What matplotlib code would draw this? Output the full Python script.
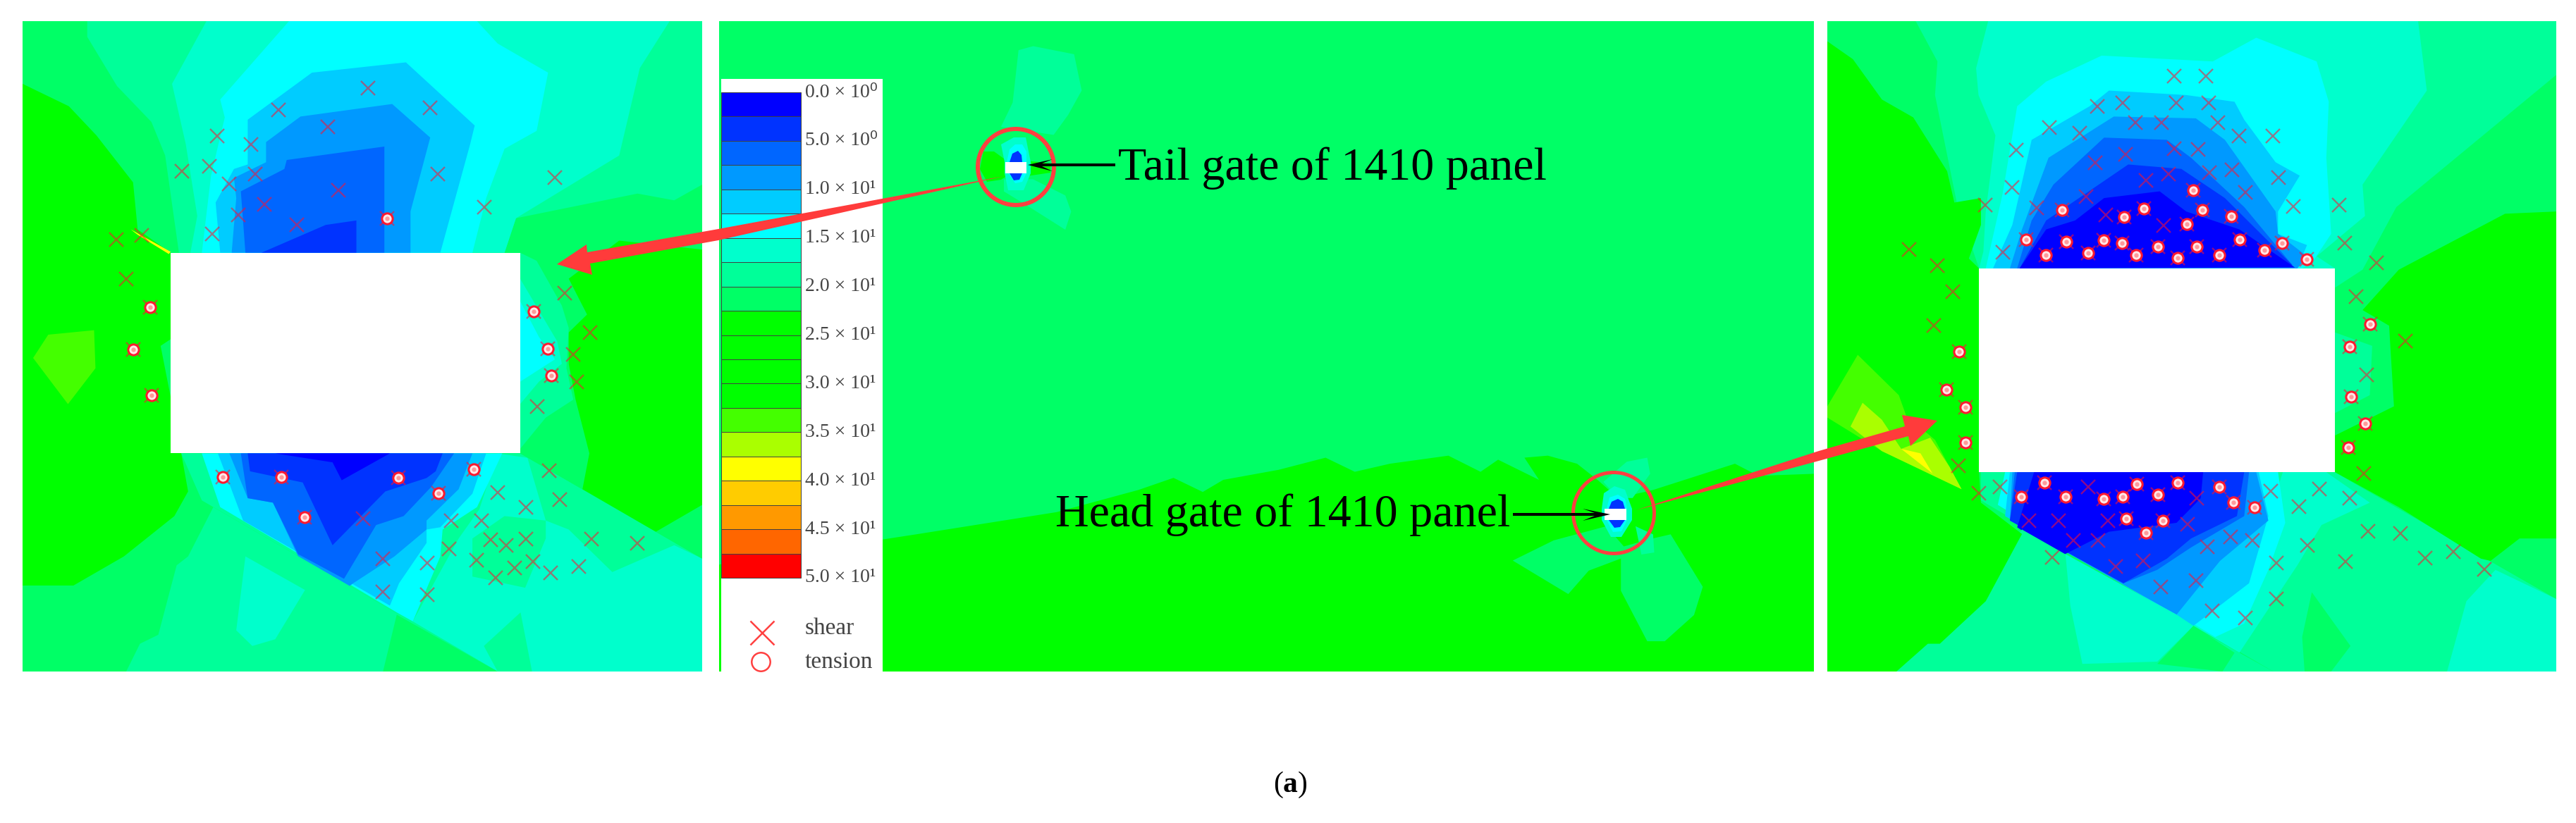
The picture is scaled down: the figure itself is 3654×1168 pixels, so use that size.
import matplotlib
matplotlib.use('Agg')
import matplotlib.pyplot as plt
from matplotlib.patches import Ellipse

plt.rcParams['font.family'] = ['Liberation Serif', 'DejaVu Sans']
plt.rcParams['mathtext.fontset'] = 'custom'
plt.rcParams['mathtext.rm'] = 'Liberation Serif'
plt.rcParams['mathtext.bf'] = 'Liberation Serif:bold'

W, H = 3655, 1168

# contour colours, low to high
C0, C1, C2, C3, C4, C5 = '#0000ff', '#0033ff', '#0066ff', '#0099ff', '#00ccff', '#00ffff'
C6, C7, C8, C9 = '#00ffcc', '#00ff99', '#00ff66', '#00ff00'
C10, C11, C12 = '#44ff00', '#aaff00', '#ffff00'
bar_colors = [C0, C1, C2, C3, C4, C5, C6, C7, C8, C9, C9, C9, C9, C10, C11, C12,
              '#ffcc00', '#ff9900', '#ff6600', '#ff0000']
bar_labels = ['0.0', '5.0', '1.0', '1.5', '2.0', '2.5', '3.0', '3.5', '4.0', '4.5', '5.0']
bar_powers = ['⁰', '⁰', '¹', '¹', '¹', '¹', '¹', '¹', '¹', '¹', '¹']

# left panel, picture units
L_XLIM, L_YLIM = (49, 1531), (1497, 45)
L_RECT = [(372, 562), (1134, 562), (1134, 1010), (372, 1010)]
l_up_c7 = [(190, 45), (1531, 45), (1531, 410), (1470, 445), (1390, 430), (1125, 485), (1100, 562), (390, 562), (360, 345), (330, 270), (255, 190), (190, 80)]
l_up_c6 = [(450, 45), (1460, 45), (1395, 150), (1350, 345), (1125, 485), (1100, 562), (415, 562), (430, 480), (405, 320), (375, 185)]
l_up_c5 = [(630, 45), (1040, 45), (1085, 95), (1195, 160), (1170, 290), (1100, 330), (1060, 440), (1030, 562), (440, 562), (460, 390), (490, 260), (480, 220)]
l_up_c4 = [(680, 160), (885, 137), (1035, 278), (1025, 320), (960, 562), (480, 562), (470, 450), (510, 375), (540, 365), (540, 265)]
l_up_c3 = [(655, 258), (855, 230), (938, 305), (895, 470), (895, 562), (505, 562), (515, 440), (510, 395), (580, 360), (580, 315)]
l_up_c2 = [(625, 355), (838, 325), (838, 562), (535, 562), (525, 425), (620, 375)]
l_up_c1 = [(710, 500), (777, 490), (777, 562), (570, 562)]
l_low_c7 = [(395, 1010), (1134, 1010), (1531, 1245), (1531, 1497), (1085, 1497), (440, 1115)]
l_low_c6 = [(900, 1385), (1000, 1200), (1045, 1135), (1085, 1010), (1150, 1020), (1190, 1160), (1240, 1180), (1335, 1275), (1470, 1215), (1531, 1245), (1531, 1497), (1160, 1497), (1135, 1365), (1055, 1440), (1085, 1497)]
l_low_c8a = [(1430, 1185), (1531, 1125), (1531, 1245)]
l_low_c8b = [(1030, 1200), (1100, 1150), (1190, 1160), (1190, 1200), (1145, 1310), (1030, 1285)]
l_low_c5 = [(440, 1010), (1095, 1010), (1040, 1130), (965, 1180), (960, 1240), (900, 1385), (865, 1365), (480, 1130)]
l_low_c4 = [(475, 1010), (1060, 1010), (1030, 1100), (960, 1175), (930, 1180), (930, 1210), (870, 1300), (850, 1350), (530, 1160)]
l_low_c3 = [(500, 1010), (1030, 1010), (1000, 1090), (930, 1160), (930, 1180), (860, 1240), (770, 1300), (745, 1320), (650, 1240), (595, 1120), (540, 1110)]
l_low_c2 = [(525, 1010), (990, 1010), (940, 1085), (880, 1150), (820, 1170), (750, 1290), (650, 1235), (595, 1120), (540, 1110)]
l_low_c1 = [(540, 1010), (965, 1010), (950, 1050), (930, 1065), (840, 1095), (725, 1215), (660, 1075), (545, 1050)]
l_low_c0 = [(600, 1010), (850, 1010), (745, 1070), (725, 1030)]
l_btm_c7 = [(275, 1497), (305, 1435), (345, 1415), (385, 1260), (410, 1240), (465, 1130), (1085, 1497)]
l_btm_c6 = [(535, 1240), (665, 1315), (600, 1425), (550, 1440), (515, 1405)]
l_btm_c8 = [(865, 1370), (1085, 1497), (835, 1497)]
l_west_c9 = [(49, 185), (150, 235), (210, 300), (290, 405), (300, 510), (372, 562), (372, 755), (350, 770), (375, 900), (395, 1010), (410, 1095), (380, 1150), (270, 1240), (160, 1305), (49, 1305)]
l_west_c10 = [(105, 745), (205, 735), (208, 820), (148, 900), (72, 797)]
l_west_c12 = [(285, 510), (372, 560), (368, 565), (300, 522)]
l_east_c8 = [(1134, 562), (1170, 580), (1240, 620), (1531, 555), (1531, 1125), (1270, 1090), (1134, 1010)]
l_east_c7 = [(1134, 562), (1170, 580), (1225, 680), (1240, 730), (1235, 820), (1250, 890), (1190, 930), (1134, 1000)]
l_east_c6 = [(1134, 620), (1215, 760), (1225, 810), (1175, 850), (1134, 900)]
l_east_c5 = [(1134, 670), (1175, 750), (1210, 800), (1134, 850)]
l_east_c9 = [(1240, 620), (1350, 535), (1531, 555), (1531, 1125), (1430, 1185), (1270, 1090), (1285, 1010), (1255, 890), (1240, 810), (1240, 740), (1280, 700)]

l_shear_x = [802, 937, 607, 715, 474, 547, 397, 457, 556, 499, 955, 1209, 737, 576, 519, 1056, 647, 463, 253, 309, 275, 1231, 1286, 1250, 1257, 1171, 1198, 1085, 1220, 1147, 791, 983, 1050, 1070, 1104, 1146, 1289, 1390, 979, 835, 932, 1039, 1162, 1122, 1200, 1262, 1080, 835, 932]
l_shear_y = [195, 238, 244, 281, 301, 320, 380, 369, 386, 409, 386, 395, 423, 454, 477, 461, 499, 520, 533, 524, 620, 653, 741, 789, 850, 906, 1048, 1097, 1113, 1130, 1155, 1161, 1161, 1203, 1215, 1201, 1201, 1211, 1224, 1246, 1254, 1249, 1251, 1265, 1276, 1263, 1287, 1319, 1326]
l_tens_x = [844, 328, 1164, 291, 1195, 1202, 330, 485, 613, 868, 1033, 956, 664]
l_tens_y = [485, 684, 693, 778, 777, 837, 880, 1063, 1063, 1065, 1045, 1099, 1153]

# right panel, picture units
R_XLIM, R_YLIM = (17, 1526), (1497, 45)
R_RECT = [(331, 597), (1068, 597), (1068, 1052), (331, 1052)]
r_up_c7 = [(200, 45), (1526, 45), (1526, 165), (1195, 460), (1125, 600), (1068, 640), (1068, 597), (331, 597), (285, 450), (240, 210), (245, 135)]
r_up_c6 = [(350, 45), (1240, 45), (1258, 200), (1125, 410), (1130, 480), (1030, 570), (1068, 597), (331, 597), (340, 560), (345, 470), (365, 300), (330, 210), (325, 150)]
r_up_c5 = [(905, 82), (1030, 135), (1055, 225), (1050, 350), (1060, 520), (1020, 585), (1000, 597), (345, 597), (380, 430), (410, 235), (470, 180), (585, 122), (815, 135)]
r_up_c4 = [(600, 200), (760, 210), (860, 225), (880, 265), (945, 360), (995, 390), (950, 470), (950, 520), (1010, 545), (990, 597), (360, 597), (400, 500), (440, 310), (560, 235)]
r_up_c3 = [(610, 258), (780, 262), (840, 310), (945, 470), (950, 520), (1010, 570), (990, 597), (395, 597), (420, 510), (475, 350)]
r_up_c2 = [(590, 305), (720, 310), (770, 350), (880, 460), (980, 590), (410, 597), (440, 490), (485, 410)]
r_up_c1 = [(640, 365), (750, 375), (840, 440), (980, 590), (415, 597), (470, 490)]
r_up_c0 = [(705, 425), (760, 470), (870, 510), (985, 595), (415, 597), (470, 510), (530, 490), (590, 440)]
r_low_c7 = [(335, 1052), (1068, 1052), (1526, 1335), (1526, 1497), (940, 1497), (335, 1115)]
r_low_c6a = [(960, 1052), (1050, 1052), (1140, 1120), (1040, 1170), (990, 1260), (870, 1455), (775, 1395), (900, 1250)]
r_low_c6b = [(1300, 1497), (1340, 1340), (1400, 1270), (1526, 1335), (1526, 1497)]
r_low_c5 = [(385, 1052), (950, 1052), (965, 1165), (930, 1270), (880, 1390), (820, 1420), (370, 1125)]
r_low_c4 = [(395, 1052), (910, 1052), (930, 1150), (890, 1300), (775, 1395), (385, 1150)]
r_low_c3 = [(400, 1052), (905, 1052), (930, 1160), (830, 1250), (740, 1370), (395, 1160)]
r_low_c2 = [(405, 1052), (890, 1052), (880, 1150), (770, 1220), (700, 1270), (630, 1300), (395, 1160)]
r_low_c1 = [(410, 1052), (880, 1052), (865, 1150), (770, 1200), (720, 1245), (630, 1300), (395, 1160)]
r_low_c0 = [(445, 1052), (795, 1052), (790, 1110), (740, 1165), (600, 1185), (500, 1240), (410, 1175)]
r_low_c8 = [(1020, 1320), (1100, 1440), (1060, 1497), (1005, 1497), (1000, 1420)]
r_btm_c7 = [(420, 1180), (365, 1260), (350, 1330), (225, 1435), (160, 1497), (940, 1497), (770, 1395)]
r_btm_c6 = [(510, 1235), (740, 1370), (775, 1395), (700, 1475), (545, 1480), (520, 1350)]
r_btm_c8 = [(775, 1395), (860, 1455), (835, 1497), (700, 1480)]
r_west_c9 = [(17, 90), (70, 130), (130, 220), (195, 260), (265, 380), (280, 450), (335, 440), (335, 500), (310, 575), (331, 597), (331, 1052), (335, 1120), (420, 1190), (345, 1340), (250, 1435), (225, 1435), (160, 1497), (17, 1497)]
r_west_c10 = [(80, 790), (165, 880), (180, 925), (240, 980), (295, 1090), (130, 1005), (17, 930), (17, 905)]
r_west_c11 = [(90, 897), (130, 935), (170, 1000), (230, 975), (270, 1040), (295, 1090), (130, 1005), (65, 950)]
r_west_c12 = [(170, 1000), (210, 1010), (235, 1055)]
r_east_c8 = [(1068, 640), (1125, 600), (1200, 600), (1420, 475), (1526, 470), (1526, 1335), (1068, 1052)]
r_east_c9 = [(1526, 470), (1420, 475), (1200, 600), (1125, 690), (1180, 725), (1190, 905), (1068, 970), (1068, 1052), (1200, 1130), (1370, 1245), (1390, 1250), (1450, 1200), (1526, 1200)]
r_east_c7 = [(1068, 740), (1145, 770), (1140, 880), (1068, 920)]

r_shear_x = [735, 801, 576, 628, 739, 806, 655, 709, 825, 477, 540, 870, 940, 408, 735, 784, 634, 571, 724, 808, 854, 677, 951, 399, 883, 553, 344, 450, 981, 1077, 594, 713, 1088, 186, 380, 245, 1154, 277, 1111, 237, 1214, 1133, 288, 1128, 331, 375, 557, 935, 1035, 782, 1098, 993, 435, 496, 598, 763, 1137, 1204, 526, 578, 852, 897, 803, 1011, 482, 1255, 1313, 1090, 947, 671, 614, 1377, 780, 707, 947, 814, 882]
r_shear_y = [168, 168, 235, 228, 228, 228, 272, 272, 272, 283, 295, 301, 301, 333, 330, 331, 343, 361, 386, 383, 377, 401, 395, 417, 428, 437, 456, 462, 458, 456, 478, 501, 541, 554, 561, 591, 585, 649, 660, 724, 759, 834, 1037, 1055, 1099, 1085, 1085, 1094, 1089, 1110, 1110, 1129, 1160, 1160, 1161, 1168, 1184, 1189, 1205, 1205, 1197, 1205, 1218, 1216, 1242, 1244, 1229, 1251, 1255, 1250, 1262, 1269, 1294, 1308, 1335, 1362, 1377]
r_tens_x = [775, 503, 672, 794, 631, 853, 762, 428, 512, 589, 627, 871, 959, 469, 557, 656, 702, 781, 742, 828, 922, 1010, 1140, 1098, 290, 263, 303, 1102, 1130, 303, 1096, 467, 657, 742, 828, 419, 510, 589, 628, 702, 857, 901, 636, 712, 677]
r_tens_y = [422, 466, 464, 466, 482, 480, 498, 532, 537, 535, 540, 533, 541, 567, 563, 567, 548, 548, 573, 567, 557, 576, 721, 771, 783, 867, 907, 883, 944, 985, 996, 1075, 1079, 1076, 1085, 1107, 1107, 1111, 1107, 1102, 1120, 1130, 1156, 1160, 1187]

# middle panel, picture units
M_XLIM, M_YLIM = (-337, 1535), (1490, -122)
m_ground = [(-337, 1225), (0, 1150), (240, 1095), (380, 1040), (440, 1010), (490, 1045), (525, 1015), (620, 990), (700, 960), (750, 995), (810, 975), (910, 955), (965, 995), (995, 965), (1065, 1015), (1040, 960), (1080, 955), (1130, 975), (1165, 1015), (1200, 1060), (1260, 1040), (1400, 975), (1440, 1005), (1535, 1000), (1535, 1490), (-337, 1490)]
m_plume_low = [(1020, 1215), (1090, 1165), (1180, 1130), (1210, 1180), (1260, 1160), (1290, 1150), (1345, 1280), (1330, 1350), (1280, 1415), (1250, 1415), (1205, 1290), (1205, 1210), (1150, 1240), (1115, 1298)]
m_head_up = [(1175, 1020), (1215, 970), (1250, 960), (1255, 1000), (1225, 1060), (1200, 1060)]
m_head_low = [(1230, 1130), (1260, 1150), (1262, 1195), (1240, 1200)]
m_tail_up = [(175, -50), (200, -60), (270, -40), (283, 50), (260, 110), (235, 160), (145, 140), (165, 80)]
m_tail_low = [(150, 270), (200, 270), (255, 310), (265, 350), (255, 395), (195, 340), (150, 300)]

# the two small openings in the middle panel, in figure pixels
tail_c9a = [(1390, 240), (1395, 215), (1410, 215), (1428, 228), (1428, 250), (1420, 255), (1400, 258)]
tail_c9b = [(1456, 228), (1490, 232), (1490, 245), (1470, 248), (1456, 250)]
tail_c6 = [(1425, 230), (1420, 205), (1438, 195), (1455, 195), (1462, 230), (1462, 246), (1452, 270), (1430, 270), (1425, 246)]
tail_c5a = [(1428, 230), (1432, 212), (1440, 205), (1450, 205), (1456, 215), (1456, 230)]
tail_c5b = [(1430, 246), (1456, 246), (1450, 258), (1440, 260)]
tail_c1a = [(1432, 230), (1436, 218), (1444, 214), (1449, 220), (1450, 230)]
tail_c1b = [(1432, 246), (1450, 246), (1446, 255), (1438, 256)]
tail_rect = [(1426, 230), (1456, 230), (1456, 246), (1426, 246)]
head_c6 = [(2272, 722), (2275, 700), (2290, 690), (2305, 695), (2315, 722), (2315, 738), (2300, 762), (2285, 762), (2272, 738)]
head_c5a = [(2279, 722), (2283, 706), (2295, 702), (2305, 708), (2308, 722)]
head_c5b = [(2279, 738), (2308, 738), (2300, 754), (2288, 755)]
head_c1a = [(2282, 722), (2286, 712), (2295, 708), (2302, 712), (2305, 722)]
head_c1b = [(2282, 738), (2305, 738), (2298, 748), (2290, 749)]
head_rect = [(2276, 722), (2307, 722), (2307, 738), (2276, 738)]

# red arrows and black pointers, in figure pixels
arrow_left = [(1424, 250), (1019, 325), (833, 358), (832, 347), (790, 375), (840, 390), (837, 374), (1019, 341)]
arrow_right = [(2321, 724), (2580, 640), (2702, 605), (2698, 589), (2748, 597), (2710, 633), (2707, 619), (2580, 654)]
pointer_tail = [(1458, 234), (1493, 226), (1478, 232), (1582, 232), (1582, 236), (1478, 236), (1493, 243)]
pointer_head = [(2284, 730), (2245, 722), (2262, 728), (2146, 728), (2146, 732), (2262, 732), (2245, 739)]


# adds an axes in figure pixels, drawn in picture units
def add_panel(fig, x0, x1, y0, y1, xlim, ylim):
    ax = fig.add_axes([x0 / W, 1 - y1 / H, (x1 - x0) / W, (y1 - y0) / H])
    ax.set_xlim(xlim)
    ax.set_ylim(ylim)
    ax.set_facecolor(C8)
    ax.set_xticks([])
    ax.set_yticks([])
    for s in ax.spines.values():
        s.set_visible(False)
    return ax


def fill(ax, poly, color):
    xs = [p[0] for p in poly]
    ys = [p[1] for p in poly]
    ax.fill(xs, ys, color=color, lw=0)


# shear crosses are half see through, like in the source picture
def marks(ax, sx, sy, tx, ty):
    ax.plot(sx + tx, sy + ty, ls='', marker='x', ms=15, mew=1.7, color='#ff1030', alpha=0.55)
    ax.plot(tx, ty, ls='', marker='o', ms=11, mew=2.2, mfc='#ffe8e8', mec='#ff1a30')
    ax.plot(tx, ty, ls='', marker='o', ms=4.5, mew=0, mfc='#ff9a9a')


fig = plt.figure(figsize=(W / 100, H / 100), dpi=100, facecolor='white')

# left panel
ax = add_panel(fig, 32, 996, 30, 953, L_XLIM, L_YLIM)
for poly, col in [(l_low_c7, C7), (l_low_c6, C6), (l_low_c8a, C8), (l_low_c8b, C7), (l_low_c5, C5), (l_low_c4, C4),
                  (l_low_c3, C3), (l_low_c2, C2), (l_low_c1, C1), (l_low_c0, C0),
                  (l_up_c7, C7), (l_up_c6, C6), (l_up_c5, C5), (l_up_c4, C4), (l_up_c3, C3), (l_up_c2, C2), (l_up_c1, C1),
                  (l_btm_c7, C7), (l_btm_c6, C6), (l_btm_c8, C8), (l_west_c9, C9), (l_west_c10, C10), (l_west_c12, C12),
                  (l_east_c8, C8), (l_east_c9, C9), (l_east_c7, C7), (l_east_c6, C6), (l_east_c5, C5), (L_RECT, 'white')]:
    fill(ax, poly, col)
marks(ax, l_shear_x, l_shear_y, l_tens_x, l_tens_y)

# right panel
ax = add_panel(fig, 2592, 3626, 30, 953, R_XLIM, R_YLIM)
for poly, col in [(r_low_c7, C7), (r_low_c6a, C6), (r_low_c6b, C6), (r_low_c5, C5), (r_low_c4, C4), (r_low_c3, C3),
                  (r_low_c2, C2), (r_low_c1, C1), (r_low_c0, C0), (r_low_c8, C8),
                  (r_east_c8, C8), (r_up_c7, C7), (r_up_c6, C6), (r_up_c5, C5), (r_up_c4, C4), (r_up_c3, C3),
                  (r_up_c2, C2), (r_up_c1, C1), (r_up_c0, C0), (r_btm_c7, C7), (r_btm_c6, C6), (r_btm_c8, C8),
                  (r_west_c9, C9), (r_west_c10, C10), (r_west_c11, C11), (r_west_c12, C12),
                  (r_east_c9, C9), (r_east_c7, C7), (R_RECT, 'white')]:
    fill(ax, poly, col)
marks(ax, r_shear_x, r_shear_y, r_tens_x, r_tens_y)

# middle panel
ax = add_panel(fig, 1020, 2573, 30, 953, M_XLIM, M_YLIM)
for poly, col in [(m_ground, C9), (m_plume_low, C8), (m_head_up, C7), (m_head_low, C7), (m_tail_up, C7), (m_tail_low, C7)]:
    fill(ax, poly, col)

# overlay in figure pixels: legend box, arrows, labels
ov = fig.add_axes([0, 0, 1, 1], zorder=5)
ov.set_xlim(0, W)
ov.set_ylim(H, 0)
ov.axis('off')

for poly, col in [(tail_c9a, C9), (tail_c9b, C9), (tail_c6, C6), (tail_c5a, C5), (tail_c5b, C5), (tail_c1a, C1),
                  (tail_c1b, C1), (tail_rect, 'white'), (head_c6, C6), (head_c5a, C5), (head_c5b, C5),
                  (head_c1a, C1), (head_c1b, C1), (head_rect, 'white')]:
    fill(ov, poly, col)

ov.fill([1023, 1252, 1252, 1023], [112, 112, 953, 953], color='white', lw=0)
row_h = (820 - 131) / len(bar_colors)
for i, col in enumerate(bar_colors):
    ov.barh(131 + row_h * (i + 0.5), 113, height=row_h, left=1023, color=col, edgecolor='#404040', linewidth=0.7)
for i, (lab, pw) in enumerate(zip(bar_labels, bar_powers)):
    ov.text(1142, 131 + 2 * row_h * i, f'{lab} × 10{pw}', fontsize=20, color='#444444', va='center', ha='left')
ov.plot([1081], [898], ls='', marker='x', ms=24, mew=1.8, color='#ff4040')
ov.plot([1079], [939], ls='', marker='o', ms=19, mew=1.8, mfc='none', mec='#ff4040')
ov.text(1142, 892, 'shear', fontsize=24, color='#444444', va='center', ha='left')
ov.text(1142, 940, 'tension', fontsize=24, color='#444444', va='center', ha='left')

fill(ov, arrow_left, '#ff3b3b')
fill(ov, arrow_right, '#ff3b3b')
ov.add_patch(Ellipse((1441, 237), 108, 108, fill=False, ec='#ff4040', lw=4.3))
ov.add_patch(Ellipse((2289, 728), 115, 115, fill=False, ec='#ff4040', lw=3.6))

fill(ov, pointer_tail, 'black')
fill(ov, pointer_head, 'black')
ov.text(1586, 255, 'Tail gate of 1410 panel', fontsize=47.5, color='black', va='baseline', ha='left')
ov.text(1497, 747, 'Head gate of 1410 panel', fontsize=47.5, color='black', va='baseline', ha='left')

ov.text(1830, 1114, r'($\mathbf{a}$)', fontsize=30, color='black', va='center', ha='center')

fig.savefig('out.png', dpi=100)
